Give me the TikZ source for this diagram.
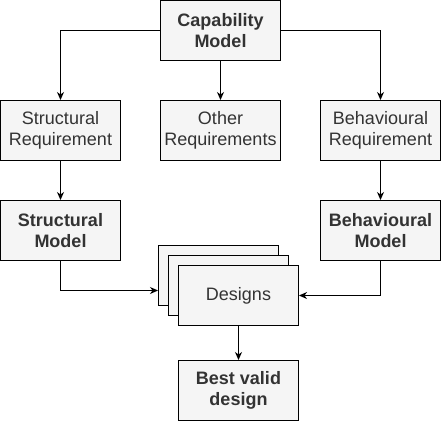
\documentclass[tikz,border=0pt]{standalone}
\usepackage{fontspec}
\setmainfont{Liberation Sans}
\usetikzlibrary{arrows.meta,calc}
\definecolor{txt}{HTML}{333333}
\definecolor{boxfill}{HTML}{F5F5F5}
\tikzset{
  box/.style={draw=black, fill=boxfill, line width=1pt, minimum width=120pt, minimum height=60pt,
    inner sep=0pt, align=center, text=txt, font=\fontsize{18}{21.6}\selectfont},
  boldbox/.style={box, font=\fontsize{18}{21.6}\selectfont\bfseries},
  conn/.style={black, line width=1pt, -{Stealth[length=8pt,width=7pt,inset=2.5pt]}}
}
\begin{document}
\begin{tikzpicture}[x=1pt,y=1pt]
\useasboundingbox (0,0) rectangle (441,-421);
\node[boldbox] (cap) at (220.5,-30.5) {Capability\\Model};
\node[box] (sreq) at (60.5,-130.5) {Structural\\Requirement};
\node[box] (oreq) at (220.5,-130.5) {Other\\Requirements};
\node[box] (breq) at (380.5,-130.5) {Behavioural\\Requirement};
\node[boldbox] (smod) at (60.5,-230.5) {Structural\\Model};
\node[boldbox] (bmod) at (380.5,-230.5) {Behavioural\\Model};
\node[box] (d1) at (218.5,-275.5) {};
\node[box] (d2) at (228.5,-285.5) {};
\node[box] (d3) at (238.5,-295.5) {Designs};
\node[boldbox] (best) at (238.5,-390.5) {Best valid\\design};
\draw[conn] (cap.west) -| (sreq.north);
\draw[conn] (cap.east) -| (breq.north);
\draw[conn] (cap.south) -- (oreq.north);
\draw[conn] (sreq.south) -- (smod.north);
\draw[conn] (breq.south) -- (bmod.north);
\draw[conn] (smod.south) |- ($(d1.west)+(0,-15)$);
\draw[conn] (bmod.south) |- (d3.east);
\draw[conn] (d3.south) -- (best.north);
\end{tikzpicture}
\end{document}
